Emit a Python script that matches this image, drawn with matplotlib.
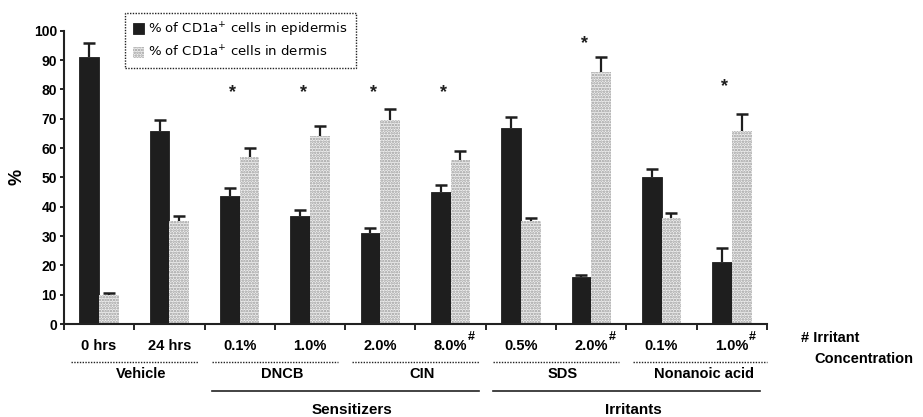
import matplotlib.pyplot as plt
import numpy as np

plt.rcParams["font.family"] = ["Liberation Sans", "DejaVu Sans"]
plt.rcParams["hatch.linewidth"] = 1.2

conditions = ["0 hrs", "24 hrs", "0.1%", "1.0%", "2.0%", "8.0%",
              "0.5%", "2.0%", "0.1%", "1.0%"]
irritant_conc = [5, 7, 9]  # labels marked with '#'
epidermis = [91, 66, 43.5, 37, 31, 45, 67, 16, 50, 21]
epidermis_err = [5, 3.5, 3, 2, 1.7, 2.5, 3.5, 0.7, 3, 5]
dermis = [10, 35, 57, 64, 69.5, 56, 35, 86, 36, 66]
dermis_err = [0.5, 2, 3, 3.5, 4, 3, 1, 5, 2, 5.5]

# significance stars: (condition index, height)
stars = [(2, 79), (3, 79), (4, 79), (5, 79), (7, 95.5), (9, 81)]

# (label, first index, last index)
agents = [("Vehicle", 0, 1), ("DNCB", 2, 3), ("CIN", 4, 5),
          ("SDS", 6, 7), ("Nonanoic acid", 8, 9)]
classes = [("Sensitizers", 2, 5), ("Irritants", 6, 9)]

fig = plt.figure(figsize=(9.23, 4.17), dpi=100)
ax = fig.add_axes([0.0693, 0.223, 0.7617, 0.703])

x = np.arange(len(conditions))
w = 0.28
dark = "#1e1e1e"
ax.bar(x - w / 2, epidermis, w, color=dark, edgecolor=dark, lw=0.6,
       label="% of CD1a$^{+}$ cells in epidermis", zorder=2)
ax.bar(x + w / 2, dermis, w, color="#f0f0f0", edgecolor="#9a9a9a", lw=0,
       hatch="......", label="% of CD1a$^{+}$ cells in dermis", zorder=2)

# upward-only error bars with a single cap
for pos, vals, errs in [(x - w / 2, epidermis, epidermis_err),
                        (x + w / 2, dermis, dermis_err)]:
    vals = np.array(vals)
    errs = np.array(errs)
    ax.vlines(pos, vals, vals + errs, color=dark, lw=1.6, zorder=3)
    ax.plot(pos, vals + errs, ls="none", marker="_", ms=9, mew=1.8,
            color=dark, zorder=3)

for i, h in stars:
    ax.text(i - 0.1, h, "*", ha="center", va="center", fontsize=13,
            fontweight="bold", color=dark)

ax.set_xlim(-0.5, len(x) - 0.5)
ax.set_ylim(0, 100)
ax.set_yticks(np.arange(0, 101, 10))
ax.tick_params(axis="y", direction="out", length=3, width=1.2, labelsize=10, pad=2)
for lab in ax.get_yticklabels():
    lab.set_fontweight("bold")
ax.set_xticks(x)
ax.set_xticklabels(conditions, fontsize=10.5, fontweight="bold")
ax.tick_params(axis="x", length=0, pad=11)
ax.set_xticks(np.arange(-0.5, len(x)), minor=True)
ax.tick_params(axis="x", which="minor", direction="out", length=4, width=1.2)
for s in ["top", "right"]:
    ax.spines[s].set_visible(False)
for s in ["left", "bottom"]:
    ax.spines[s].set_linewidth(1.5)
    ax.spines[s].set_color("#222222")
ax.set_ylabel("%", fontsize=13, fontweight="bold", labelpad=6)

tr = ax.get_xaxis_transform()
for i in irritant_conc:
    ax.annotate("#", xy=(i, 0), xycoords=tr, xytext=(15, -9),
                textcoords="offset points", ha="center", va="center",
                fontsize=9, fontweight="bold")

for name, a, b in agents:
    x1 = b + 0.5 if b == len(x) - 1 else b + 0.4
    ax.plot([a - 0.4, x1], [-0.13, -0.13], transform=tr, clip_on=False,
            color="#222222", lw=1.0, ls=(0, (1, 1)))
    ax.text((a + b) / 2 + 0.1, -0.172, name, transform=tr, ha="center", va="center",
            fontsize=10.5, fontweight="bold")
for name, a, b in classes:
    ax.plot([a - 0.4, b + 0.4], [-0.229, -0.229], transform=tr, clip_on=False,
            color="#222222", lw=1.2)
    ax.text((a + b) / 2 + 0.1, -0.295, name, transform=tr, ha="center", va="center",
            fontsize=11, fontweight="bold")

fig.text(0.868, 0.19, "# Irritant", fontsize=10.5, fontweight="bold", va="center")
fig.text(0.882, 0.14, "Concentration", fontsize=10.5, fontweight="bold", va="center")

leg = ax.legend(loc="upper left", bbox_to_anchor=(0.077, 1.085),
                prop=dict(family="DejaVu Sans", size=9.5),
                handlelength=0.9, handleheight=0.9, handletextpad=0.3,
                borderpad=0.6, labelspacing=0.45, fancybox=False, framealpha=1)
leg.get_frame().set_edgecolor("#222222")
leg.get_frame().set_linestyle((0, (1, 1)))
leg.get_frame().set_linewidth(1.0)

fig.savefig("out.png", dpi=100)
